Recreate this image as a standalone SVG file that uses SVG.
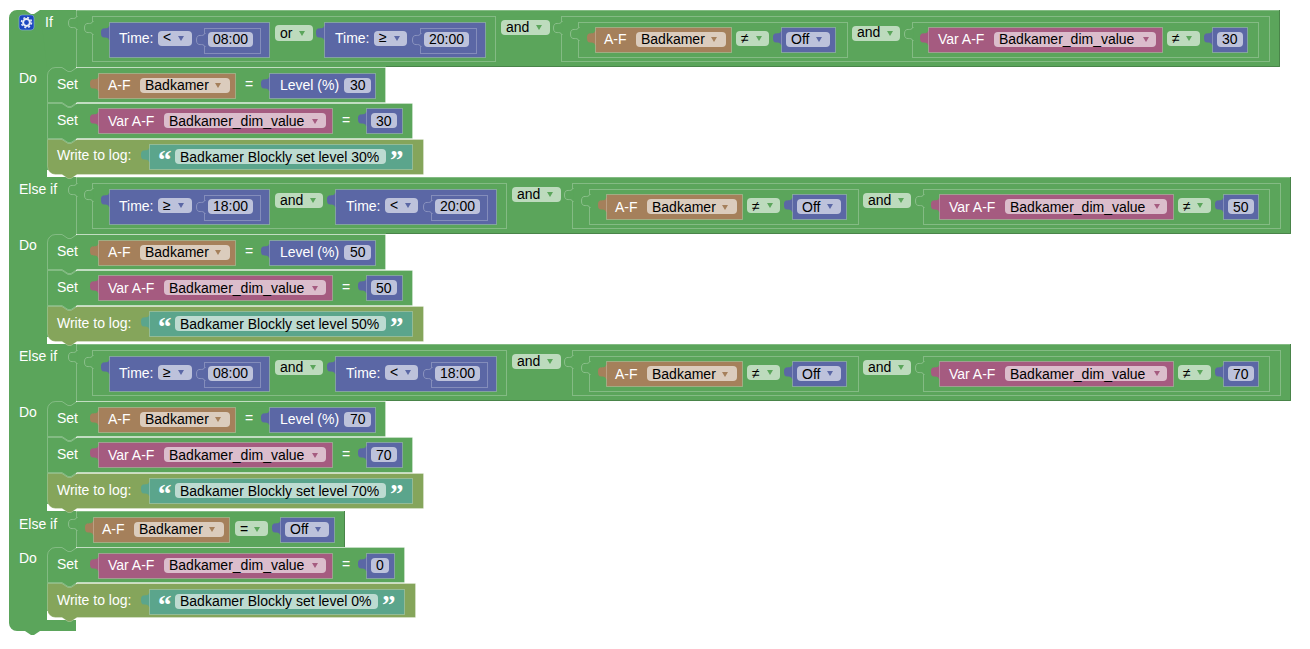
<svg xmlns="http://www.w3.org/2000/svg" width="1310" height="649" viewBox="0 0 1310 649">
<style>
text{font-family:"Liberation Sans",Arial,sans-serif;font-size:14px;fill:#000;white-space:pre}
text.w{fill:#fff}
text.q{font-family:"Liberation Serif","Times New Roman",serif;font-size:27px;font-weight:bold;fill:#fff}
.g{fill:#5ba55b}.l{fill:#85a55b}
.st{stroke:#fff;stroke-opacity:.25;stroke-width:1}
.dk{fill:none;stroke:#498449;stroke-width:1}
.bl{fill:#5b67a5}.br{fill:#a5805b}.pk{fill:#a55b80}.te{fill:#5ba58c}
.bb{fill:#5b67a5;stroke:#fff;stroke-opacity:.25}.bbr{fill:#a5805b;stroke:#fff;stroke-opacity:.25}.bpk{fill:#a55b80;stroke:#fff;stroke-opacity:.25}.bte{fill:#5ba58c;stroke:#fff;stroke-opacity:.25}
.f{fill:#fff;fill-opacity:.6}
.s{fill:none;stroke:#fff;stroke-opacity:.25;stroke-width:1}
.sg{fill:#5ba55b;stroke:#8cc08c;stroke-width:1}
.sb{fill:#5b67a5;stroke:#8c94c0;stroke-width:1}
.ag{fill:#5ba55b}.ab{fill:#5b67a5}.abr{fill:#a5805b}.apk{fill:#a55b80}
</style>
<defs>
<path id="tab" d="M1,4 H0 C-1,9 -8,3 -8,11 S-1,13 0,18 H1 z"/>
<path id="slot" d="M1.5,4.5 H.5 C-.5,9 -7.5,3 -7.5,11 S-.5,13 .5,17.5 H1.5"/>
<path id="ar" d="M-3,-2 H3 L0,3 z"/>
</defs>

<g id="if-block-frame">
<path class="g" d="M17,10 H25 l6,4 h3 l6,-4 H76 V631 H40 l-6,4 h-3 l-6,-4 H17 a8,8 0 0 1 -8,-8 V18 a8,8 0 0 1 8,-8 z"/>
<rect x="47" y="170" width="30" height="7" fill="#fff"/>
<rect x="47" y="337" width="30" height="7" fill="#fff"/>
<rect x="47" y="504" width="30" height="7" fill="#fff"/>
<rect x="47" y="611" width="30" height="9" fill="#fff"/>
<path class="g" d="M40,10 H1280 V67 H47 z"/>
<path class="g" d="M47,177 H1291 V234 H47 z"/>
<path class="g" d="M47,344 H1291 V401 H47 z"/>
<path class="g" d="M47,511 H345 V547 H47 z"/>
<path class="dk" d="M1279.5,10 V66.5 H386"/>
<path class="dk" d="M1290.5,177 V233.5 H386"/>
<path class="dk" d="M1290.5,344 V400.5 H386"/>
<path class="dk" d="M344.5,511 V547"/>
<path class="s" d="M76.5,10 V67 M76.5,177 V234 M76.5,344 V401 M76.5,511 V547 M76,10.5 H1279 M76,177.5 H1290 M76,344.5 H1290 M76,511.5 H344"/>
<use href="#slot" class="sg" x="76" y="12"/>
<use href="#slot" class="sg" x="76" y="179"/>
<use href="#slot" class="sg" x="76" y="346"/>
<use href="#slot" class="sg" x="76" y="513"/>
<g id="gear-icon">
<rect x="19" y="15" width="15" height="15" rx="3" fill="#1c47c0" stroke="#8cb0e0" stroke-width=".6"/>
<circle cx="26.5" cy="22.5" r="3.4" fill="none" stroke="#e8ecf8" stroke-width="2"/>
<circle cx="26.5" cy="22.5" r="5" fill="none" stroke="#e8ecf8" stroke-width="1.5" stroke-dasharray="2 1.93"/>
</g>
<text class="w" x="45" y="27">If</text>
<text class="w" x="19" y="83">Do</text>
<text class="w" x="19" y="194">Else if</text>
<text class="w" x="19" y="250">Do</text>
<text class="w" x="19" y="361">Else if</text>
<text class="w" x="19" y="417">Do</text>
<text class="w" x="19" y="529">Else if</text>
<text class="w" x="19" y="563">Do</text>
</g>

<!-- condition 1 -->
<g id="cond1">
<g id="cond1-or"><rect class="s" x="92.5" y="16.5" width="403" height="45"/><use href="#slot" class="sg" x="92" y="17"/></g>
<g id="time1" transform="translate(109,22)"><use href="#tab" class="bl"/><rect class="bb" x=".5" y=".5" width="160" height="35"/><text class="w" x="10" y="21">Time:</text><rect class="f" x="49" y="9" width="34" height="15" rx="4"/><text x="54" y="20">&lt;</text><use href="#ar" class="ab" x="72" y="16"/><rect class="s" x="95.5" y="6.5" width="56" height="25"/><use href="#slot" class="sb" x="95" y="7"/><rect class="f" x="99" y="10" width="45" height="15" rx="4"/><text x="104" y="22">08:00</text></g>
<g id="or1"><rect class="f" x="275" y="25" width="38" height="16" rx="4"/><text x="280" y="38">or</text><use href="#ar" class="ag" x="302" y="33"/></g>
<g id="time2" transform="translate(324,22)"><use href="#tab" class="bl"/><rect class="bb" x=".5" y=".5" width="161" height="35"/><text class="w" x="11" y="21">Time:</text><rect class="f" x="50" y="9" width="33" height="15" rx="4"/><text x="55" y="20">≥</text><use href="#ar" class="ab" x="73" y="16"/><rect class="s" x="96.5" y="6.5" width="56" height="25"/><use href="#slot" class="sb" x="96" y="7"/><rect class="f" x="100" y="10" width="45" height="15" rx="4"/><text x="105" y="22">20:00</text></g>
<g id="and1"><rect class="f" x="501" y="20" width="49" height="15" rx="4"/><text x="506" y="32">and</text><use href="#ar" class="ag" x="539" y="27"/></g>
<g id="cond1-and"><rect class="s" x="561.5" y="16.5" width="708" height="45"/><use href="#slot" class="sg" x="561" y="17"/><rect class="s" x="578.5" y="22.5" width="269" height="35"/><use href="#slot" class="sg" x="578" y="23"/></g>
<g id="af1" transform="translate(595,27)"><use href="#tab" class="br"/><rect class="bbr" x=".5" y=".5" width="136" height="25"/><text class="w" x="9" y="17">A-F</text><rect class="f" x="41" y="5" width="90" height="15" rx="4"/><text x="46" y="17">Badkamer</text><use href="#ar" class="abr" x="119" y="12"/></g>
<g id="ne1"><rect class="f" x="736" y="31" width="33" height="15" rx="4"/><text x="741" y="43">≠</text><use href="#ar" class="ag" x="759" y="38"/></g>
<g id="off1" transform="translate(781,27)"><use href="#tab" class="bl"/><rect class="bb" x=".5" y=".5" width="54" height="25"/><rect class="f" x="5" y="5" width="44" height="15" rx="4"/><text x="10" y="17">Off</text><use href="#ar" class="ab" x="38" y="12"/></g>
<g id="and1b"><rect class="f" x="852" y="26" width="48" height="15" rx="4"/><text x="857" y="37">and</text><use href="#ar" class="ag" x="890" y="33"/></g>
<g id="cond1-var"><rect class="s" x="912.5" y="22.5" width="346" height="35"/><use href="#slot" class="sg" x="912" y="23"/></g>
<g id="var1" transform="translate(928,27)"><use href="#tab" class="pk"/><rect class="bpk" x=".5" y=".5" width="234" height="25"/><text class="w" x="10" y="17">Var A-F</text><rect class="f" x="66" y="5" width="162" height="15" rx="4"/><text x="71" y="17">Badkamer_dim_value</text><use href="#ar" class="apk" x="218" y="12"/></g>
<g id="ne1b"><rect class="f" x="1167" y="31" width="33" height="15" rx="4"/><text x="1172" y="43">≠</text><use href="#ar" class="ag" x="1189" y="38"/></g>
<g id="num1" transform="translate(1212,27)"><use href="#tab" class="bl"/><rect class="bb" x=".5" y=".5" width="35" height="25"/><rect class="f" x="5" y="5" width="26" height="15" rx="4"/><text x="10" y="17">30</text></g>
</g>

<!-- do 1 -->
<g id="do1">
<g id="set1a"><path class="g st" d="M47.5,75.5 a8,8 0 0 1 8,-8 H62 l6,4 h3 l6,-4 H385.5 V102.5 H77 l-6,4 h-3 l-6,-4 H47.5 z"/><text class="w" x="57" y="89">Set</text>
<g transform="translate(98,73)"><use href="#tab" class="br"/><rect class="bbr" x=".5" y=".5" width="137" height="25"/><text class="w" x="10" y="17">A-F</text><rect class="f" x="42" y="5" width="90" height="15" rx="4"/><text x="47" y="17">Badkamer</text><use href="#ar" class="abr" x="120" y="12"/></g>
<text class="w" x="245" y="89">=</text>
<g transform="translate(269,73)"><use href="#tab" class="bl"/><rect class="bb" x=".5" y=".5" width="106" height="25"/><text class="w" x="11" y="17">Level (%)</text><rect class="f" x="75" y="5" width="27" height="15" rx="4"/><text x="81" y="17">30</text></g></g>
<g id="set1b"><path class="g st" d="M47.5,103.5 H62 l6,4 h3 l6,-4 H412.5 V138.5 H77 l-6,4 h-3 l-6,-4 H47.5 z"/><text class="w" x="57" y="125">Set</text>
<g transform="translate(98,108)"><use href="#tab" class="pk"/><rect class="bpk" x=".5" y=".5" width="234" height="25"/><text class="w" x="10" y="18">Var A-F</text><rect class="f" x="66" y="5" width="162" height="15" rx="4"/><text x="71" y="18">Badkamer_dim_value</text><use href="#ar" class="apk" x="217" y="13"/></g>
<text class="w" x="342" y="125">=</text>
<g transform="translate(366,108)"><use href="#tab" class="bl"/><rect class="bb" x=".5" y=".5" width="36" height="25"/><rect class="f" x="5" y="5" width="26" height="15" rx="4"/><text x="10" y="18">30</text></g></g>
<g id="log1"><path class="l st" d="M47.5,139.5 H62 l6,4 h3 l6,-4 H423.5 V174.5 H77 l-6,4 h-3 l-6,-4 H55.5 a8,8 0 0 1 -8,-8 z"/><text class="w" x="57" y="160">Write to log:</text>
<g transform="translate(149,144)"><use href="#tab" class="te"/><rect class="bte" x=".5" y=".5" width="263" height="25"/><text class="q" x="9" y="25">“</text><rect class="f" x="26" y="5" width="211" height="15" rx="4"/><text x="31" y="18">Badkamer Blockly set level 30%</text><text class="q" x="241" y="25">”</text></g></g>
</g>

<!-- condition 2 -->
<g id="cond2">
<g id="cond2-and"><rect class="s" x="92.5" y="183.5" width="414" height="45"/><use href="#slot" class="sg" x="92" y="184"/></g>
<g id="time3" transform="translate(109,189)"><use href="#tab" class="bl"/><rect class="bb" x=".5" y=".5" width="160" height="35"/><text class="w" x="10" y="22">Time:</text><rect class="f" x="49" y="9" width="34" height="15" rx="4"/><text x="54" y="21">≥</text><use href="#ar" class="ab" x="72" y="16"/><rect class="s" x="95.5" y="6.5" width="56" height="25"/><use href="#slot" class="sb" x="95" y="7"/><rect class="f" x="99" y="10" width="45" height="15" rx="4"/><text x="104" y="22">18:00</text></g>
<g id="and2"><rect class="f" x="275" y="193" width="48" height="15" rx="4"/><text x="280" y="205">and</text><use href="#ar" class="ag" x="313" y="200"/></g>
<g id="time4" transform="translate(335,189)"><use href="#tab" class="bl"/><rect class="bb" x=".5" y=".5" width="161" height="35"/><text class="w" x="11" y="22">Time:</text><rect class="f" x="50" y="9" width="33" height="15" rx="4"/><text x="55" y="21">&lt;</text><use href="#ar" class="ab" x="73" y="16"/><rect class="s" x="96.5" y="6.5" width="56" height="25"/><use href="#slot" class="sb" x="96" y="7"/><rect class="f" x="100" y="10" width="45" height="15" rx="4"/><text x="105" y="22">20:00</text></g>
<g id="and2a"><rect class="f" x="512" y="187" width="49" height="15" rx="4"/><text x="517" y="199">and</text><use href="#ar" class="ag" x="550" y="194"/></g>
<g id="cond2-and2"><rect class="s" x="572.5" y="183.5" width="708" height="45"/><use href="#slot" class="sg" x="572" y="184"/><rect class="s" x="589.5" y="189.5" width="269" height="35"/><use href="#slot" class="sg" x="589" y="190"/></g>
<g id="af2" transform="translate(606,194)"><use href="#tab" class="br"/><rect class="bbr" x=".5" y=".5" width="136" height="25"/><text class="w" x="9" y="18">A-F</text><rect class="f" x="41" y="5" width="90" height="15" rx="4"/><text x="46" y="18">Badkamer</text><use href="#ar" class="abr" x="119" y="13"/></g>
<g id="ne2"><rect class="f" x="747" y="198" width="33" height="15" rx="4"/><text x="752" y="211">≠</text><use href="#ar" class="ag" x="770" y="205"/></g>
<g id="off2" transform="translate(792,194)"><use href="#tab" class="bl"/><rect class="bb" x=".5" y=".5" width="54" height="25"/><rect class="f" x="5" y="5" width="44" height="15" rx="4"/><text x="10" y="18">Off</text><use href="#ar" class="ab" x="38" y="12"/></g>
<g id="and2b"><rect class="f" x="863" y="193" width="48" height="15" rx="4"/><text x="868" y="205">and</text><use href="#ar" class="ag" x="901" y="200"/></g>
<g id="cond2-var"><rect class="s" x="923.5" y="189.5" width="346" height="35"/><use href="#slot" class="sg" x="923" y="190"/></g>
<g id="var2" transform="translate(939,194)"><use href="#tab" class="pk"/><rect class="bpk" x=".5" y=".5" width="234" height="25"/><text class="w" x="10" y="18">Var A-F</text><rect class="f" x="66" y="5" width="162" height="15" rx="4"/><text x="71" y="18">Badkamer_dim_value</text><use href="#ar" class="apk" x="218" y="12"/></g>
<g id="ne2b"><rect class="f" x="1178" y="198" width="33" height="15" rx="4"/><text x="1183" y="211">≠</text><use href="#ar" class="ag" x="1200" y="205"/></g>
<g id="num2" transform="translate(1223,194)"><use href="#tab" class="bl"/><rect class="bb" x=".5" y=".5" width="35" height="25"/><rect class="f" x="5" y="5" width="26" height="15" rx="4"/><text x="10" y="18">50</text></g>
</g>

<!-- do 2 -->
<g id="do2" transform="translate(0,167)">
<g id="set2a"><path class="g st" d="M47.5,75.5 a8,8 0 0 1 8,-8 H62 l6,4 h3 l6,-4 H385.5 V102.5 H77 l-6,4 h-3 l-6,-4 H47.5 z"/><text class="w" x="57" y="89">Set</text>
<g transform="translate(98,73)"><use href="#tab" class="br"/><rect class="bbr" x=".5" y=".5" width="137" height="25"/><text class="w" x="10" y="17">A-F</text><rect class="f" x="42" y="5" width="90" height="15" rx="4"/><text x="47" y="17">Badkamer</text><use href="#ar" class="abr" x="120" y="12"/></g>
<text class="w" x="245" y="89">=</text>
<g transform="translate(269,73)"><use href="#tab" class="bl"/><rect class="bb" x=".5" y=".5" width="106" height="25"/><text class="w" x="11" y="17">Level (%)</text><rect class="f" x="75" y="5" width="27" height="15" rx="4"/><text x="81" y="17">50</text></g></g>
<g id="set2b"><path class="g st" d="M47.5,103.5 H62 l6,4 h3 l6,-4 H412.5 V138.5 H77 l-6,4 h-3 l-6,-4 H47.5 z"/><text class="w" x="57" y="125">Set</text>
<g transform="translate(98,108)"><use href="#tab" class="pk"/><rect class="bpk" x=".5" y=".5" width="234" height="25"/><text class="w" x="10" y="18">Var A-F</text><rect class="f" x="66" y="5" width="162" height="15" rx="4"/><text x="71" y="18">Badkamer_dim_value</text><use href="#ar" class="apk" x="217" y="13"/></g>
<text class="w" x="342" y="125">=</text>
<g transform="translate(366,108)"><use href="#tab" class="bl"/><rect class="bb" x=".5" y=".5" width="36" height="25"/><rect class="f" x="5" y="5" width="26" height="15" rx="4"/><text x="10" y="18">50</text></g></g>
<g id="log2"><path class="l st" d="M47.5,139.5 H62 l6,4 h3 l6,-4 H423.5 V174.5 H77 l-6,4 h-3 l-6,-4 H55.5 a8,8 0 0 1 -8,-8 z"/><text class="w" x="57" y="161">Write to log:</text>
<g transform="translate(149,144)"><use href="#tab" class="te"/><rect class="bte" x=".5" y=".5" width="263" height="25"/><text class="q" x="9" y="25">“</text><rect class="f" x="26" y="5" width="211" height="15" rx="4"/><text x="31" y="18">Badkamer Blockly set level 50%</text><text class="q" x="241" y="25">”</text></g></g>
</g>

<!-- condition 3 -->
<g id="cond3" transform="translate(0,167)">
<g id="cond3-and"><rect class="s" x="92.5" y="183.5" width="414" height="45"/><use href="#slot" class="sg" x="92" y="184"/></g>
<g id="time5" transform="translate(109,189)"><use href="#tab" class="bl"/><rect class="bb" x=".5" y=".5" width="160" height="35"/><text class="w" x="10" y="22">Time:</text><rect class="f" x="49" y="9" width="34" height="15" rx="4"/><text x="54" y="21">≥</text><use href="#ar" class="ab" x="72" y="16"/><rect class="s" x="95.5" y="6.5" width="56" height="25"/><use href="#slot" class="sb" x="95" y="7"/><rect class="f" x="99" y="10" width="45" height="15" rx="4"/><text x="104" y="22">08:00</text></g>
<g id="and3"><rect class="f" x="275" y="193" width="48" height="15" rx="4"/><text x="280" y="205">and</text><use href="#ar" class="ag" x="313" y="200"/></g>
<g id="time6" transform="translate(335,189)"><use href="#tab" class="bl"/><rect class="bb" x=".5" y=".5" width="161" height="35"/><text class="w" x="11" y="22">Time:</text><rect class="f" x="50" y="9" width="33" height="15" rx="4"/><text x="55" y="21">&lt;</text><use href="#ar" class="ab" x="73" y="16"/><rect class="s" x="96.5" y="6.5" width="56" height="25"/><use href="#slot" class="sb" x="96" y="7"/><rect class="f" x="100" y="10" width="45" height="15" rx="4"/><text x="105" y="22">18:00</text></g>
<g id="and3a"><rect class="f" x="512" y="187" width="49" height="15" rx="4"/><text x="517" y="199">and</text><use href="#ar" class="ag" x="550" y="194"/></g>
<g id="cond3-and2"><rect class="s" x="572.5" y="183.5" width="708" height="45"/><use href="#slot" class="sg" x="572" y="184"/><rect class="s" x="589.5" y="189.5" width="269" height="35"/><use href="#slot" class="sg" x="589" y="190"/></g>
<g id="af3" transform="translate(606,194)"><use href="#tab" class="br"/><rect class="bbr" x=".5" y=".5" width="136" height="25"/><text class="w" x="9" y="18">A-F</text><rect class="f" x="41" y="5" width="90" height="15" rx="4"/><text x="46" y="18">Badkamer</text><use href="#ar" class="abr" x="119" y="13"/></g>
<g id="ne3"><rect class="f" x="747" y="198" width="33" height="15" rx="4"/><text x="752" y="211">≠</text><use href="#ar" class="ag" x="770" y="205"/></g>
<g id="off3" transform="translate(792,194)"><use href="#tab" class="bl"/><rect class="bb" x=".5" y=".5" width="54" height="25"/><rect class="f" x="5" y="5" width="44" height="15" rx="4"/><text x="10" y="18">Off</text><use href="#ar" class="ab" x="38" y="12"/></g>
<g id="and3b"><rect class="f" x="863" y="193" width="48" height="15" rx="4"/><text x="868" y="205">and</text><use href="#ar" class="ag" x="901" y="200"/></g>
<g id="cond3-var"><rect class="s" x="923.5" y="189.5" width="346" height="35"/><use href="#slot" class="sg" x="923" y="190"/></g>
<g id="var3" transform="translate(939,194)"><use href="#tab" class="pk"/><rect class="bpk" x=".5" y=".5" width="234" height="25"/><text class="w" x="10" y="18">Var A-F</text><rect class="f" x="66" y="5" width="162" height="15" rx="4"/><text x="71" y="18">Badkamer_dim_value</text><use href="#ar" class="apk" x="218" y="12"/></g>
<g id="ne3b"><rect class="f" x="1178" y="198" width="33" height="15" rx="4"/><text x="1183" y="211">≠</text><use href="#ar" class="ag" x="1200" y="205"/></g>
<g id="num3" transform="translate(1223,194)"><use href="#tab" class="bl"/><rect class="bb" x=".5" y=".5" width="35" height="25"/><rect class="f" x="5" y="5" width="26" height="15" rx="4"/><text x="10" y="18">70</text></g>
</g>

<!-- do 3 -->
<g id="do3" transform="translate(0,334)">
<g id="set3a"><path class="g st" d="M47.5,75.5 a8,8 0 0 1 8,-8 H62 l6,4 h3 l6,-4 H385.5 V102.5 H77 l-6,4 h-3 l-6,-4 H47.5 z"/><text class="w" x="57" y="89">Set</text>
<g transform="translate(98,73)"><use href="#tab" class="br"/><rect class="bbr" x=".5" y=".5" width="137" height="25"/><text class="w" x="10" y="17">A-F</text><rect class="f" x="42" y="5" width="90" height="15" rx="4"/><text x="47" y="17">Badkamer</text><use href="#ar" class="abr" x="120" y="12"/></g>
<text class="w" x="245" y="89">=</text>
<g transform="translate(269,73)"><use href="#tab" class="bl"/><rect class="bb" x=".5" y=".5" width="106" height="25"/><text class="w" x="11" y="17">Level (%)</text><rect class="f" x="75" y="5" width="27" height="15" rx="4"/><text x="81" y="17">70</text></g></g>
<g id="set3b"><path class="g st" d="M47.5,103.5 H62 l6,4 h3 l6,-4 H412.5 V138.5 H77 l-6,4 h-3 l-6,-4 H47.5 z"/><text class="w" x="57" y="125">Set</text>
<g transform="translate(98,108)"><use href="#tab" class="pk"/><rect class="bpk" x=".5" y=".5" width="234" height="25"/><text class="w" x="10" y="18">Var A-F</text><rect class="f" x="66" y="5" width="162" height="15" rx="4"/><text x="71" y="18">Badkamer_dim_value</text><use href="#ar" class="apk" x="217" y="13"/></g>
<text class="w" x="342" y="125">=</text>
<g transform="translate(366,108)"><use href="#tab" class="bl"/><rect class="bb" x=".5" y=".5" width="36" height="25"/><rect class="f" x="5" y="5" width="26" height="15" rx="4"/><text x="10" y="18">70</text></g></g>
<g id="log3"><path class="l st" d="M47.5,139.5 H62 l6,4 h3 l6,-4 H423.5 V174.5 H77 l-6,4 h-3 l-6,-4 H55.5 a8,8 0 0 1 -8,-8 z"/><text class="w" x="57" y="161">Write to log:</text>
<g transform="translate(149,144)"><use href="#tab" class="te"/><rect class="bte" x=".5" y=".5" width="263" height="25"/><text class="q" x="9" y="25">“</text><rect class="f" x="26" y="5" width="211" height="15" rx="4"/><text x="31" y="18">Badkamer Blockly set level 70%</text><text class="q" x="241" y="25">”</text></g></g>
</g>

<!-- condition 4 -->
<g id="cond4">
<g id="af4" transform="translate(93,517)"><use href="#tab" class="br"/><rect class="bbr" x=".5" y=".5" width="136" height="25"/><text class="w" x="9" y="17">A-F</text><rect class="f" x="41" y="5" width="90" height="15" rx="4"/><text x="46" y="17">Badkamer</text><use href="#ar" class="abr" x="119" y="12"/></g>
<g id="eq4"><rect class="f" x="235" y="521" width="33" height="15" rx="4"/><text x="240" y="534">=</text><use href="#ar" class="ag" x="257" y="529"/></g>
<g id="off4" transform="translate(280,517)"><use href="#tab" class="bl"/><rect class="bb" x=".5" y=".5" width="54" height="25"/><rect class="f" x="5" y="5" width="44" height="15" rx="4"/><text x="10" y="17">Off</text><use href="#ar" class="ab" x="38" y="12"/></g>
</g>

<!-- do 4 -->
<g id="do4">
<g id="set4"><path class="g st" d="M47.5,555.5 a8,8 0 0 1 8,-8 H62 l6,4 h3 l6,-4 H404.5 V582.5 H77 l-6,4 h-3 l-6,-4 H47.5 z"/><text class="w" x="57" y="569">Set</text>
<g transform="translate(98,553)"><use href="#tab" class="pk"/><rect class="bpk" x=".5" y=".5" width="234" height="25"/><text class="w" x="10" y="17">Var A-F</text><rect class="f" x="66" y="5" width="162" height="15" rx="4"/><text x="71" y="17">Badkamer_dim_value</text><use href="#ar" class="apk" x="217" y="12"/></g>
<text class="w" x="342" y="569">=</text>
<g transform="translate(366,553)"><use href="#tab" class="bl"/><rect class="bb" x=".5" y=".5" width="28" height="25"/><rect class="f" x="5" y="5" width="18" height="15" rx="4"/><text x="10" y="17">0</text></g></g>
<g id="log4"><path class="l st" d="M47.5,583.5 H62 l6,4 h3 l6,-4 H415.5 V617.5 H77 l-6,4 h-3 l-6,-4 H55.5 a8,8 0 0 1 -8,-8 z"/><text class="w" x="57" y="605">Write to log:</text>
<g transform="translate(149,589)"><use href="#tab" class="te"/><rect class="bte" x=".5" y=".5" width="255" height="25"/><text class="q" x="9" y="25">“</text><rect class="f" x="26" y="5" width="203" height="15" rx="4"/><text x="31" y="17">Badkamer Blockly set level 0%</text><text class="q" x="233" y="25">”</text></g></g>
</g>
</svg>
